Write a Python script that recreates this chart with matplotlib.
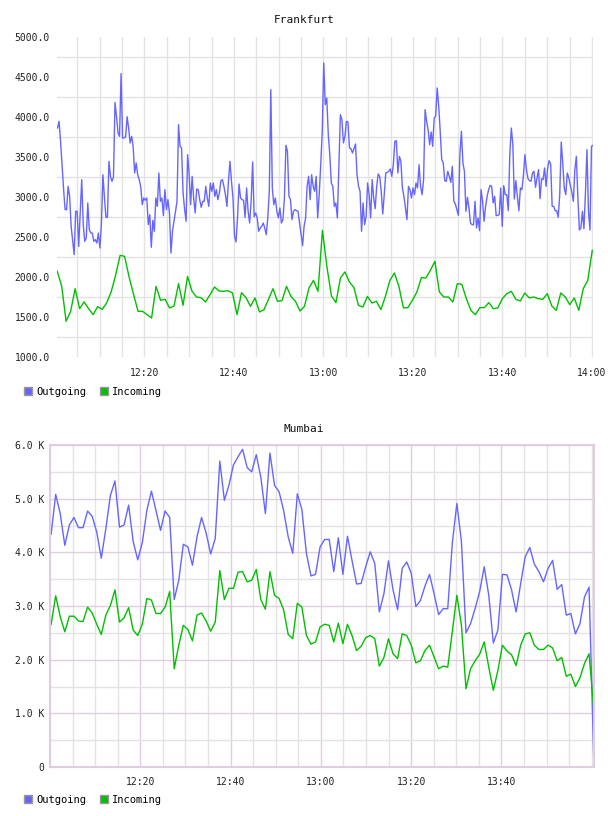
import numpy as np
import pandas as pd
import matplotlib
matplotlib.use('Agg')
import matplotlib.pyplot as plt
import matplotlib.dates as mdates
from matplotlib.patches import Patch

day = '2013-05-14 '

# Frankfurt, outgoing (dense samples)
fra_out = [3862, 3946, 3700, 3404, 3100, 2842, 2842, 3133, 3008, 2633,
           2450, 2279, 2821, 2821, 2383, 2800, 3217, 2654, 2446, 2487,
           2925, 2592, 2550, 2550, 2446, 2467, 2425, 2550, 2363, 2654,
           3279, 3000, 2746, 2746, 3446, 3258, 3196, 3250, 4183, 4008,
           3800, 3758, 4542, 3738, 3740, 3750, 4004, 3862, 3675, 3758,
           3633, 3300, 3425, 3279, 3217, 3133, 2904, 2988, 2960, 2988,
           2654, 2779, 2371, 2708, 2571, 2988, 2883, 3300, 2946, 2988,
           2767, 3092, 2842, 2967, 2800, 2300, 2571, 2700, 2821, 2946,
           3904, 3633, 3612, 3050, 2850, 2696, 3529, 3279, 2904,
           3258, 2988, 2800, 3100, 3092, 2967, 2871, 2946, 2946, 3133,
           2988, 2883, 3175, 3071, 3175, 3008, 3092, 2967, 3050, 3204,
           3217, 3133, 3029, 2883, 3196, 3446, 3196, 2988, 2508, 2438,
           2738, 3163, 2988, 2967, 2958, 2746, 3113, 2821, 2675, 2946,
           3438, 2754, 2800, 2738, 2571, 2613, 2633, 2675, 2613, 2529,
           2738, 3071, 4342, 3113, 2904, 2988, 2821, 2738, 2863, 2675,
           2717, 2988, 3646, 3571, 3008, 2967, 2717, 2821, 2842, 2829,
           2821, 2675, 2529, 2392, 2633, 2738, 3133, 3258, 2967, 3279,
           3133, 3071, 3258, 2738, 3029, 3404, 3821, 4675, 4154, 4237,
           3779, 3529, 3175, 3133, 2883, 2925, 2738, 3404, 4029, 3967,
           3675, 3758, 3946, 3938, 3613, 3604, 3550, 3604, 3663, 3279,
           3133, 3071, 2571, 2925, 2654, 2758, 3175, 3029, 2738, 3217,
           2988, 2854, 3133, 3288, 3258, 3071, 2788, 3029, 3300, 3308,
           3321, 3350, 3258, 3404, 3696, 3704, 3300, 3508, 3446, 3113,
           3008, 2863, 2717, 3133, 3092, 2988, 3113, 3029, 3175, 3113,
           3404, 3133, 3029, 3217, 4092, 3946, 3842, 3654, 3813, 3633,
           3988, 4008, 4363, 4133, 3821, 3467, 3425, 3204, 3196, 3321,
           3258, 3183, 3383, 2946, 2913, 2842, 2771, 3529, 3821, 3425,
           3321, 2821,
           2996, 2863, 2675, 2654, 2654, 2946, 2613, 2738, 2579, 3092,
           2946, 2696, 2883, 3008, 3092, 3146, 3133, 2925, 3008, 2767,
           2771, 2779, 3113, 2633, 3142, 3029, 3029, 2829, 3529, 3862,
           3654, 2975, 3204, 3008, 2829, 3113, 3092, 3271, 3529, 3342,
           3229, 3204, 3196, 3300, 3321, 3121, 3238, 3342, 2979, 3229,
           3217, 3363, 3133, 3363, 3454, 3413, 2883, 2883, 2829, 2829,
           2746, 3029, 3688, 3425, 3113, 3029, 3300, 3238, 3146, 3063,
           2946, 3342, 3508, 2988, 2588, 2613, 2821, 2604, 3050, 3592,
           2821, 2588, 3633, 3646]

# Frankfurt, incoming (one per minute)
fra_in = [2075, 1888, 1446, 1571, 1854, 1604, 1688, 1604, 1529, 1629,
          1596, 1675, 1813, 2021, 2271, 2258, 2000, 1779, 1571, 1571,
          1529, 1488, 1883, 1708, 1721, 1613, 1638, 1917, 1646, 2008,
          1821, 1750, 1742, 1688, 1779, 1875, 1825, 1821, 1829, 1800,
          1529, 1804, 1742, 1633, 1738, 1563, 1592, 1721, 1854, 1696,
          1704, 1883, 1758, 1696, 1575, 1633, 1863, 1958, 1821,
          2583, 2125, 1763, 1679, 1988, 2063, 1938, 1867, 1646, 1625,
          1758, 1675, 1696, 1592, 1758, 1958, 2050, 1883, 1613, 1617,
          1708, 1813, 1992, 1988, 2083, 2196, 1813, 1750, 1750, 1688,
          1917, 1908, 1729, 1583, 1529, 1617, 1617, 1679, 1604, 1613,
          1729, 1792, 1821, 1721, 1700, 1800, 1738, 1750, 1729, 1721,
          1792, 1638, 1583, 1800, 1750, 1654, 1738, 1583, 1854, 1958,
          2333]

# Mumbai, in thousands
mum_out = [4.34, 5.08, 4.72, 4.13, 4.51, 4.65, 4.46, 4.46, 4.77, 4.67,
           4.38, 3.89, 4.44, 5.06, 5.33, 4.47, 4.51, 4.88, 4.20, 3.86,
           4.18, 4.78, 5.14, 4.78, 4.41, 4.77, 4.65, 3.12, 3.48, 4.15,
           4.10, 3.76, 4.29, 4.65, 4.36, 3.97, 4.26, 5.70, 4.97, 5.25,
           5.63, 5.78, 5.92, 5.58, 5.50, 5.82, 5.40, 4.72, 5.85, 5.25,
           5.13, 4.78, 4.29, 3.98, 5.09, 4.80, 3.98, 3.56, 3.59, 4.10,
           4.24, 4.24, 3.64, 4.27, 3.59, 4.30, 3.85, 3.41, 3.42, 3.73,
           4.01, 3.79, 2.89, 3.23, 3.84, 3.30, 2.93, 3.70, 3.82, 3.61,
           2.99, 3.10, 3.37, 3.59, 3.23, 2.84, 2.95, 2.95, 4.17, 4.91,
           4.20, 2.50, 2.67, 2.95, 3.27, 3.73, 3.20, 2.31, 2.55, 3.59,
           3.58, 3.30, 2.89, 3.42, 3.92, 4.09, 3.78, 3.64, 3.45, 3.70,
           3.85, 3.31, 3.40, 2.83, 2.86, 2.48, 2.67, 3.17, 3.35, 0.24]

mum_in = [2.66, 3.19, 2.80, 2.52, 2.81, 2.81, 2.72, 2.71, 2.98, 2.87,
          2.66, 2.47, 2.83, 3.01, 3.30, 2.70, 2.78, 2.97, 2.55, 2.45,
          2.66, 3.14, 3.11, 2.86, 2.86, 2.98, 3.27, 1.83, 2.27, 2.64,
          2.56, 2.35, 2.83, 2.87, 2.72, 2.53, 2.70, 3.66, 3.12, 3.33,
          3.33, 3.63, 3.64, 3.45, 3.48, 3.68, 3.12, 2.94, 3.64, 3.20,
          3.14, 2.93, 2.47, 2.39, 3.05, 2.98, 2.45, 2.29, 2.33, 2.61,
          2.66, 2.64, 2.33, 2.68, 2.30, 2.66, 2.45, 2.17, 2.25, 2.41,
          2.45, 2.39, 1.88, 2.04, 2.39, 2.11, 2.02, 2.48, 2.45, 2.27,
          1.94, 1.98, 2.17, 2.27, 2.05, 1.83, 1.88, 1.86, 2.52, 3.20,
          2.64, 1.46, 1.83, 1.98, 2.10, 2.33, 1.86, 1.43, 1.80, 2.27,
          2.16, 2.09, 1.89, 2.27, 2.48, 2.50, 2.27, 2.19, 2.19, 2.27,
          2.22, 1.98, 2.04, 1.69, 1.73, 1.50, 1.66, 1.93, 2.11, 1.11]

fra_yticks = [1000, 1500, 2000, 2500, 3000, 3500, 4000, 4500, 5000]
mum_yticks = [0, 1, 2, 3, 4, 5, 6]
fra_xticks = ['12:20', '12:40', '13:00', '13:20', '13:40', '14:00']
mum_xticks = ['12:20', '12:40', '13:00', '13:20', '13:40']
series = ['Outgoing', 'Incoming']

blue = '#6666ff'
green = '#00c000'
grey = '#e3e3e3'
purple = '#e2cce2'
mono = 'DejaVu Sans Mono'

fra_out_t = pd.date_range(day + '12:00:35', day + '14:00:15', periods=len(fra_out))
fra_in_t = pd.date_range(day + '12:00:30', day + '14:00:05', periods=len(fra_in))
mum_t = pd.date_range(day + '12:00:15', day + '14:00:25', periods=len(mum_out))

fig = plt.figure(figsize=(6.08, 8.16), dpi=100)
ax1 = fig.add_axes([57 / 608, 1 - 357 / 816, 536 / 608, 320 / 816])
ax2 = fig.add_axes([50 / 608, 1 - 767 / 816, 544 / 608, 322 / 816])

ax1.plot(fra_out_t, fra_out, color=blue, lw=1.0)
ax1.plot(fra_in_t, fra_in, color=green, lw=1.0)
ax2.plot(mum_t, mum_out, color=blue, lw=1.0)
ax2.plot(mum_t, mum_in, color=green, lw=1.0)

ax1.set_xlim(pd.Timestamp(day + '12:00:28'), pd.Timestamp(day + '14:00:15'))
ax2.set_xlim(pd.Timestamp(day + '12:00:00'), pd.Timestamp(day + '14:00:30'))
ax1.set_ylim(1000, 5000)
ax2.set_ylim(0, 6)

for ax, xt in ((ax1, fra_xticks), (ax2, mum_xticks)):
    ax.set_xticks([pd.Timestamp(day + t) for t in xt])
    ax.xaxis.set_major_formatter(mdates.DateFormatter('%H:%M'))
    ax.xaxis.set_minor_locator(mdates.MinuteLocator(byminute=range(0, 60, 5)))
    ax.tick_params(which='both', length=0, labelsize=7, colors='#222222')
    ax.set_axisbelow(True)
    for lab in ax.get_xticklabels() + ax.get_yticklabels():
        lab.set_family(mono)

# Frankfurt: labels on the half-thousands, grid between them
ax1.set_yticks(fra_yticks)
ax1.set_yticklabels([f'{v:.1f}' for v in fra_yticks], family=mono)
ax1.set_yticks([v + 250 for v in fra_yticks[:-1]], minor=True)
ax1.grid(True, which='both', axis='x', color=grey, lw=1)
ax1.grid(True, which='minor', axis='y', color=grey, lw=1)
ax1.tick_params(axis='y', pad=5)
ax1.tick_params(axis='x', pad=8)
for s in ax1.spines.values():
    s.set_visible(False)

# Mumbai: purple major grid, grey minor grid
ax2.set_yticks(mum_yticks)
ax2.set_yticklabels(['0' if v == 0 else f'{v:.1f} K' for v in mum_yticks], family=mono)
ax2.set_yticks([v + 0.5 for v in mum_yticks[:-1]], minor=True)
ax2.grid(True, which='minor', color=grey, lw=1)
ax2.grid(True, which='major', color=purple, lw=1)
ax2.tick_params(axis='y', pad=4)
ax2.tick_params(axis='x', pad=7)
for s in ax2.spines.values():
    s.set_color(purple)
    s.set_linewidth(1.5)

fig.text(0.5, 1 - 20 / 816, 'Frankfurt', ha='center', va='center',
         family=mono, fontsize=8, color='#111111')
fig.text(0.5, 1 - 429 / 816, 'Mumbai', ha='center', va='center',
         family=mono, fontsize=8, color='#111111')

handles = [Patch(facecolor=blue, edgecolor='#999999'),
           Patch(facecolor=green, edgecolor='#999999')]
for yc in (1 - 392 / 816, 1 - 800 / 816):
    fig.legend(handles, series, loc='center left', bbox_to_anchor=(24 / 608, yc),
               ncol=2, frameon=False, handlelength=0.8, handleheight=0.8,
               handletextpad=0.35, columnspacing=1.3, borderpad=0,
               borderaxespad=0, prop={'family': mono, 'size': 7.5})

plt.savefig('out.png', dpi=100)
